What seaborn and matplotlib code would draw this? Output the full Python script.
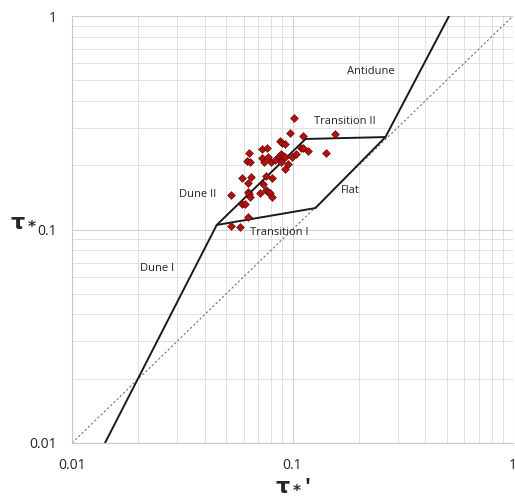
import numpy as np
import pandas as pd
import matplotlib.pyplot as plt
import seaborn as sns

# bedform regime boundaries (tau*' vs tau*)
upper_x = [0.0141, 0.0453, 0.1146, 0.264, 0.513]
upper_y = [0.010, 0.105, 0.2655, 0.271, 1.0]
lower_x = [0.0453, 0.127, 0.264]
lower_y = [0.105, 0.126, 0.271]
diag_x = [0.01, 1.0]
diag_y = [0.01, 1.0]

# measured points
obs_x = [0.1014, 0.0976, 0.1113, 0.1554, 0.0873, 0.0898, 0.0920, 0.0634, 0.0724, 0.0765,
         0.1087, 0.1113, 0.1173, 0.1425, 0.0619, 0.0644, 0.0724, 0.0742, 0.0773, 0.0797,
         0.0835, 0.0864, 0.0886, 0.0904, 0.0929, 0.0882, 0.0952, 0.0997, 0.1039, 0.0923,
         0.0592, 0.0650, 0.0757, 0.0806, 0.0628, 0.0734, 0.0526, 0.0628, 0.0634, 0.0639,
         0.0709, 0.0760, 0.0776, 0.0793, 0.0806, 0.0592, 0.0611, 0.0628, 0.0526, 0.0577]
obs_y = [0.332, 0.282, 0.275, 0.279, 0.2605, 0.2533, 0.2506, 0.229, 0.238, 0.2416,
         0.240, 0.2416, 0.2338, 0.229, 0.2094, 0.2065, 0.2156, 0.2065, 0.2193, 0.2065,
         0.2116, 0.221, 0.2258, 0.221, 0.2193, 0.2065, 0.2027, 0.2193, 0.2258, 0.192,
         0.1748, 0.1756, 0.178, 0.1748, 0.1646, 0.1633, 0.145, 0.1503, 0.1462, 0.1415,
         0.1478, 0.1531, 0.1493, 0.1478, 0.1415, 0.1312, 0.1316, 0.1148, 0.1035, 0.1027]

regions = ["Antidune", "Transition II", "Dune II", "Flat", "Transition I", "Dune I"]
region_x = [0.2276, 0.172, 0.0372, 0.183, 0.0873, 0.0243]
region_y = [0.547, 0.322, 0.1465, 0.153, 0.0963, 0.066]

sns.set_style("white")
plt.rcParams["font.family"] = ["Open Sans", "DejaVu Sans"]

lines = pd.concat([
    pd.DataFrame({"x": upper_x, "y": upper_y, "seg": "upper"}),
    pd.DataFrame({"x": lower_x, "y": lower_y, "seg": "lower"}),
])
pts = pd.DataFrame({"x": obs_x, "y": obs_y})

fig = plt.figure(figsize=(5.15, 5.0), dpi=100)
ax = fig.add_axes([0.140, 0.114, 0.856, 0.854])
ax.set_xscale("log")
ax.set_yscale("log")

ax.grid(True, which="major", color="#d0d0d0", linewidth=0.8)
ax.grid(True, which="minor", color="#e0e0e0", linewidth=0.7)
ax.set_axisbelow(True)

sns.lineplot(x=diag_x, y=diag_y, ax=ax, color="#707070", linestyle=(0, (2, 2)),
             linewidth=0.8, sort=False)
sns.lineplot(data=lines, x="x", y="y", units="seg", estimator=None, sort=False,
             color="#1a1a1a", linewidth=1.4, ax=ax)
sns.scatterplot(data=pts, x="x", y="y", marker="D", s=16, color="#b01010",
                edgecolor="#5a0000", linewidth=0.4, ax=ax, zorder=5)

for name, tx, ty in zip(regions, region_x, region_y):
    ax.text(tx, ty, name, fontsize=8, ha="center", va="center", color="#222222")

ax.set_xlim(0.01, 1)
ax.set_ylim(0.01, 1)
ax.set_xticks([0.01, 0.1, 1])
ax.set_xticklabels(["0.01", "0.1", "1"])
ax.set_yticks([0.01, 0.1, 1])
ax.set_yticklabels(["0.01", "0.1", "1"])
ax.tick_params(which="major", length=5, color="#c8c8c8", labelsize=10, pad=6,
               labelcolor="#222222")
ax.tick_params(which="minor", length=0)

for side in ["top", "right"]:
    ax.spines[side].set_visible(False)
for side in ["left", "bottom"]:
    ax.spines[side].set_color("#c8c8c8")
    ax.spines[side].set_linewidth(0.8)

ax.set_xlabel(r"$\mathbf{\tau_*}$'", fontsize=16, fontweight="bold", va="center")
ax.xaxis.set_label_coords(0.5, -0.098)
ax.set_ylabel(r"$\mathbf{\tau_*}$", fontsize=16, fontweight="bold", rotation=0,
              ha="center", va="center")
ax.yaxis.set_label_coords(-0.11, 0.52)

fig.savefig("out.png", dpi=100)
